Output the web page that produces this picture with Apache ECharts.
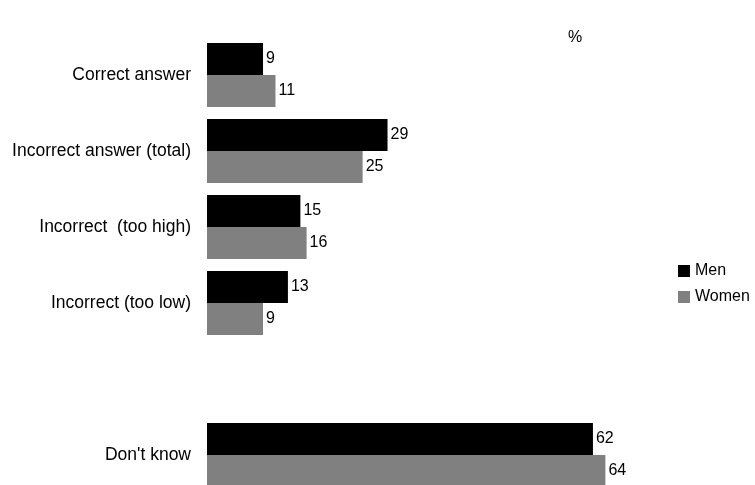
<!DOCTYPE html>
<html>
<head>
<meta charset="utf-8">
<script src="https://cdn.jsdelivr.net/npm/echarts@6/dist/echarts.min.js"></script>
<style>
  html, body { margin: 0; padding: 0; background: #fff; }
  #chart { width: 755px; height: 485px; }
</style>
</head>
<body>
<div id="chart"></div>
<script>
// Answer categories (an empty slot leaves a gap before "Don't know")
const categories = [
  'Correct answer',
  'Incorrect answer (total)',
  'Incorrect  (too high)',
  'Incorrect (too low)',
  '',
  "Don't know"
];
const menValues = [9, 29, 15, 13, null, 62];
const womenValues = [11, 25, 16, 9, null, 64];
const seriesNames = ['Men', 'Women'];
const unitLabel = '%';

const FONT = '"Liberation Sans", Arial, sans-serif';

const chart = echarts.init(document.getElementById('chart'), null, { renderer: 'canvas' });

const valueLabel = {
  show: true,
  position: 'right',
  distance: 3,
  color: '#000',
  fontFamily: FONT,
  fontSize: 16
};

chart.setOption({
  animation: false,
  backgroundColor: '#fff',
  textStyle: { fontFamily: FONT },
  title: {
    text: unitLabel,
    left: 568,
    top: 30,
    padding: 0,
    textStyle: { fontFamily: FONT, fontSize: 16, fontWeight: 'normal', color: '#000' }
  },
  legend: {
    orient: 'vertical',
    left: 678,
    top: 263,
    padding: 0,
    itemWidth: 12,
    itemHeight: 12,
    itemGap: 10,
    icon: 'rect',
    textStyle: { fontFamily: FONT, fontSize: 16, color: '#000' },
    data: seriesNames
  },
  // the last bar runs to the bottom edge, so the grid is not squeezed to fit
  grid: { left: 207, width: 498, top: 37, height: 456, outerBoundsMode: 'none', containLabel: false },
  xAxis: {
    type: 'value',
    min: 0,
    max: 80,
    show: false
  },
  yAxis: {
    type: 'category',
    inverse: true,
    data: categories,
    axisLine: { show: false },
    axisTick: { show: false },
    splitLine: { show: false },
    axisLabel: {
      margin: 16,
      color: '#000',
      fontFamily: FONT,
      fontSize: 17.5
    }
  },
  series: [
    {
      name: seriesNames[0],
      type: 'bar',
      data: menValues,
      barWidth: 32,
      barGap: '0%',
      itemStyle: { color: '#000000' },
      label: valueLabel
    },
    {
      name: seriesNames[1],
      type: 'bar',
      data: womenValues,
      barWidth: 32,
      barGap: '0%',
      itemStyle: { color: '#808080' },
      label: valueLabel
    }
  ]
});
</script>
</body>
</html>
